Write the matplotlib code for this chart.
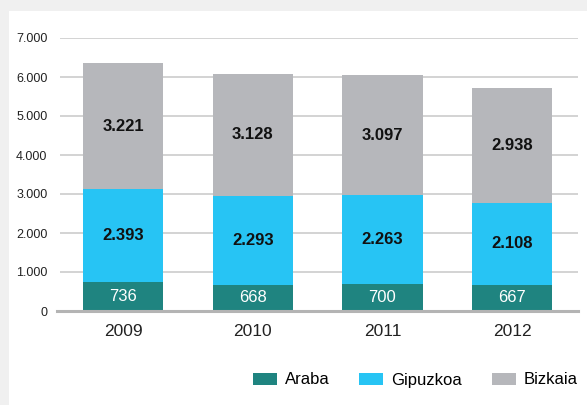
import matplotlib
matplotlib.use("Agg")
import matplotlib.pyplot as plt
from matplotlib.patches import Rectangle

plt.rcParams['font.family'] = ['Liberation Sans Narrow', 'Liberation Sans', 'DejaVu Sans']

# data
years = ['2009', '2010', '2011', '2012']
araba = [736, 668, 700, 667]
gipuzkoa = [2393, 2293, 2263, 2108]
bizkaia = [3221, 3128, 3097, 2938]
yticks = [0, 1000, 2000, 3000, 4000, 5000, 6000, 7000]
ytick_labels = ['0', '1.000', '2.000', '3.000', '4.000', '5.000', '6.000', '7.000']

c_araba = '#1f8480'
c_gipuzkoa = '#27c4f4'
c_bizkaia = '#b6b7bb'


def fmt(v):
    return f"{v:,}".replace(',', '.')


W, H = 587, 405
fig = plt.figure(figsize=(W / 100, H / 100), dpi=100, facecolor='#f0f0f0')
# white panel behind everything
fig.patches.append(Rectangle((9 / W, 0), 1 - 9 / W, 1 - 11 / H,
                             transform=fig.transFigure, facecolor='white',
                             edgecolor='none', zorder=-10))

ax = fig.add_axes([60 / W, (H - 311) / H, (578 - 60) / W, (311 - 38) / H])
ax.set_facecolor('none')

x = list(range(len(years)))
bw = 0.62
bottom2 = araba
bottom3 = [a + g for a, g in zip(araba, gipuzkoa)]

ax.bar(x, araba, bw, color=c_araba, label='Araba', zorder=2)
ax.bar(x, gipuzkoa, bw, bottom=bottom2, color=c_gipuzkoa, label='Gipuzkoa', zorder=2)
ax.bar(x, bizkaia, bw, bottom=bottom3, color=c_bizkaia, label='Bizkaia', zorder=2)

for i in x:
    ax.text(i, araba[i] / 2, fmt(araba[i]), ha='center', va='center',
            color='white', fontsize=12, zorder=5)
    ax.text(i, bottom2[i] + gipuzkoa[i] / 2, fmt(gipuzkoa[i]), ha='center',
            va='center', color='#111111', fontsize=12, fontweight='bold', zorder=5)
    ax.text(i, bottom3[i] + bizkaia[i] / 2, fmt(bizkaia[i]), ha='center',
            va='center', color='#111111', fontsize=12, fontweight='bold', zorder=5)

ax.set_xlim(-0.486, 3.508)
ax.set_ylim(0, 7000)
ax.set_yticks(yticks)
ax.set_yticklabels(ytick_labels)
ax.set_xticks(x)
ax.set_xticklabels(years)
ax.tick_params(axis='y', length=0, pad=9, labelsize=9, labelcolor='#222222')
ax.tick_params(axis='x', length=0, pad=9, labelsize=12.5, labelcolor='#222222')

for y in yticks[1:]:
    ax.axhline(y, color='#c8c8c8', lw=1.1, zorder=1)
ax.axhline(0, xmin=-0.006, color='#b4b4b4', lw=2.2, zorder=4, clip_on=False)

for s in ax.spines.values():
    s.set_visible(False)

fig.legend(loc='center right', bbox_to_anchor=(578 / W, (H - 380) / H),
           ncol=3, frameon=False, fontsize=12, handlelength=1.45,
           handleheight=0.75, handletextpad=0.5, columnspacing=1.75,
           borderaxespad=0, borderpad=0)

fig.savefig('out.png', dpi=100, facecolor=fig.get_facecolor())
